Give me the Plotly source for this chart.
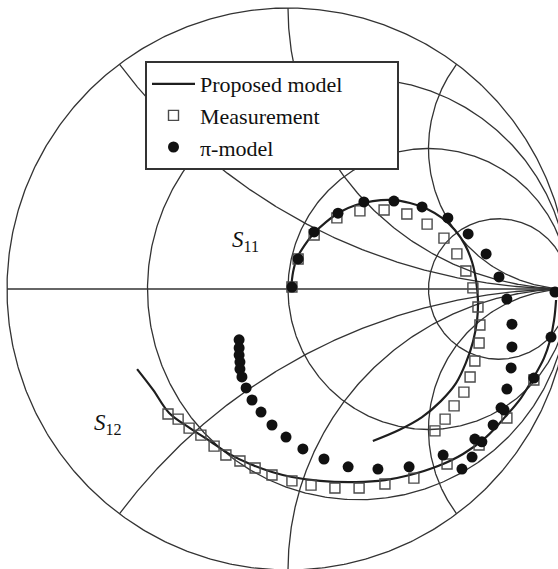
import numpy as np
import plotly.graph_objects as go

# ---- Reflection coefficients read as (real, imag) ----
s11_model_re = [0.011, 0.018, 0.032, 0.057, 0.093, 0.135, 0.185, 0.242, 0.302, 0.370,
                0.434, 0.495, 0.548, 0.594, 0.630, 0.655, 0.669, 0.676, 0.673, 0.658,
                0.633, 0.598, 0.544, 0.477, 0.395, 0.302]
s11_model_im = [0.000, 0.060, 0.110, 0.153, 0.199, 0.238, 0.274, 0.299, 0.313, 0.317,
                0.306, 0.285, 0.253, 0.210, 0.157, 0.096, 0.032, -0.039, -0.110, -0.189,
                -0.263, -0.335, -0.399, -0.456, -0.502, -0.541]

s11_meas_re = [0.014, 0.036, 0.093, 0.174, 0.256, 0.342, 0.423, 0.495, 0.555, 0.601,
               0.633, 0.658, 0.676, 0.683, 0.680, 0.665, 0.648, 0.626, 0.591, 0.559, 0.523]
s11_meas_im = [0.007, 0.107, 0.192, 0.253, 0.278, 0.281, 0.267, 0.231, 0.181, 0.125,
               0.064, 0.004, -0.064, -0.128, -0.192, -0.256, -0.313, -0.367, -0.416, -0.463, -0.505]

s11_pi_re = [0.014, 0.036, 0.093, 0.178, 0.270, 0.377, 0.477, 0.569, 0.641, 0.705,
             0.751, 0.779, 0.797, 0.797, 0.794, 0.779, 0.758, 0.730, 0.690, 0.655, 0.619]
s11_pi_im = [0.007, 0.107, 0.203, 0.270, 0.310, 0.313, 0.292, 0.253, 0.196, 0.125,
             0.043, -0.036, -0.125, -0.206, -0.281, -0.356, -0.423, -0.484, -0.544, -0.598, -0.641]

s12_model_re = [-0.537, -0.480, -0.423, -0.349, -0.278, -0.214, -0.135, -0.057, 0.014, 0.114,
                0.242, 0.345, 0.434, 0.534, 0.623, 0.705, 0.772, 0.829, 0.875, 0.911,
                0.932, 0.947, 0.954]
s12_model_im = [-0.285, -0.359, -0.441, -0.495, -0.541, -0.584, -0.623, -0.651, -0.669, -0.683,
                -0.687, -0.680, -0.662, -0.630, -0.587, -0.527, -0.456, -0.388, -0.313, -0.246,
                -0.185, -0.110, -0.039]

s12_meas_re = [-0.427, -0.391, -0.352, -0.310, -0.263, -0.221, -0.171, -0.117, -0.057, 0.014,
               0.082, 0.167, 0.253, 0.345, 0.448, 0.566, 0.680, 0.779, 0.875]
s12_meas_im = [-0.445, -0.463, -0.495, -0.520, -0.559, -0.591, -0.612, -0.637, -0.662, -0.683,
               -0.698, -0.708, -0.708, -0.694, -0.673, -0.623, -0.555, -0.459, -0.324]

s12_pi_re = [-0.174, -0.174, -0.174, -0.171, -0.171, -0.164, -0.149, -0.128, -0.096, -0.057,
             -0.007, 0.053, 0.128, 0.214, 0.320, 0.431, 0.552, 0.665, 0.769, 0.875, 0.936, 0.950]
s12_pi_im = [-0.181, -0.210, -0.235, -0.260, -0.285, -0.313, -0.352, -0.395, -0.438, -0.484,
             -0.527, -0.569, -0.605, -0.633, -0.641, -0.633, -0.591, -0.534, -0.431, -0.317, -0.171, -0.011]

# ---- Smith chart grid values ----
resistance_values = [1 / 3, 1, 3]
reactance_values = [0.5, 1, 2]

GRID_COLOR = "#333333"
LINE_COLOR = "#1e1e1e"
SERIF = "Liberation Serif"
PAD = "\u00a0" * 9  # widens the legend box on the right


def gamma(z):
    return (z - 1) / (z + 1)


def grid_paths():
    xs, ys = [], []
    t = np.linspace(0, 2 * np.pi, 721)
    # outer boundary |Gamma| = 1
    xs += list(np.cos(t)) + [None]
    ys += list(np.sin(t)) + [None]
    # real axis
    xs += [-1, 1, None]
    ys += [0, 0, None]
    # constant-resistance circles
    for r in resistance_values:
        c, rad = r / (1 + r), 1 / (1 + r)
        xs += list(c + rad * np.cos(t)) + [None]
        ys += list(rad * np.sin(t)) + [None]
    # constant-reactance arcs
    rr = np.concatenate([np.linspace(0, 1, 300), np.logspace(0, 5, 500)])
    for x in reactance_values:
        for s in (1, -1):
            g = gamma(rr + 1j * s * x)
            xs += list(g.real) + [None]
            ys += list(g.imag) + [None]
    return xs, ys


fig = go.Figure()

gx, gy = grid_paths()
fig.add_trace(go.Scatter(x=gx, y=gy, mode="lines", line=dict(color=GRID_COLOR, width=1.3),
                         hoverinfo="skip", showlegend=False))

# model curves
fig.add_trace(go.Scatter(x=s11_model_re, y=s11_model_im, mode="lines", name="Proposed model" + PAD,
                         line=dict(color=LINE_COLOR, width=2.2, shape="spline"),
                         legendgroup="model", showlegend=True))
fig.add_trace(go.Scatter(x=s12_model_re, y=s12_model_im, mode="lines", name="Proposed model" + PAD,
                         line=dict(color=LINE_COLOR, width=2.2, shape="spline"),
                         legendgroup="model", showlegend=False))

# measurement
sq = dict(symbol="square-open", size=10, color="#4a4a4a", line=dict(width=1.4, color="#4a4a4a"))
fig.add_trace(go.Scatter(x=s11_meas_re, y=s11_meas_im, mode="markers", name="Measurement",
                         marker=sq, legendgroup="meas", showlegend=True))
fig.add_trace(go.Scatter(x=s12_meas_re, y=s12_meas_im, mode="markers", name="Measurement",
                         marker=sq, legendgroup="meas", showlegend=False))

# pi-model
dot = dict(symbol="circle", size=11, color="#111111")
fig.add_trace(go.Scatter(x=s11_pi_re, y=s11_pi_im, mode="markers", name="π-model",
                         marker=dot, legendgroup="pi", showlegend=True))
fig.add_trace(go.Scatter(x=s12_pi_re, y=s12_pi_im, mode="markers", name="π-model",
                         marker=dot, legendgroup="pi", showlegend=False))

# curve labels
for txt, ax_, ay_ in [("<i>S</i><sub>11</sub>", -0.150, 0.172), ("<i>S</i><sub>12</sub>", -0.641, -0.482)]:
    fig.add_annotation(x=ax_, y=ay_, text=txt, showarrow=False,
                       font=dict(family=SERIF, size=23, color="#111111"))

W, H = 558, 569
CX, CY, RAD = 288, 289, 281
fig.update_layout(
    width=W, height=H,
    margin=dict(l=0, r=0, t=0, b=0, pad=0),
    paper_bgcolor="white", plot_bgcolor="white",
    xaxis=dict(range=[-CX / RAD, (W - CX) / RAD], visible=False, fixedrange=True),
    yaxis=dict(range=[-(H - CY) / RAD, CY / RAD], visible=False, fixedrange=True),
    showlegend=True,
    legend=dict(x=145 / W, y=1 - 61 / H, xanchor="left", yanchor="top",
                bgcolor="white", bordercolor="#333333", borderwidth=2,
                font=dict(family=SERIF, size=22, color="#111111"),
                tracegroupgap=0, itemwidth=43),
)

fig.write_html("out.html")
